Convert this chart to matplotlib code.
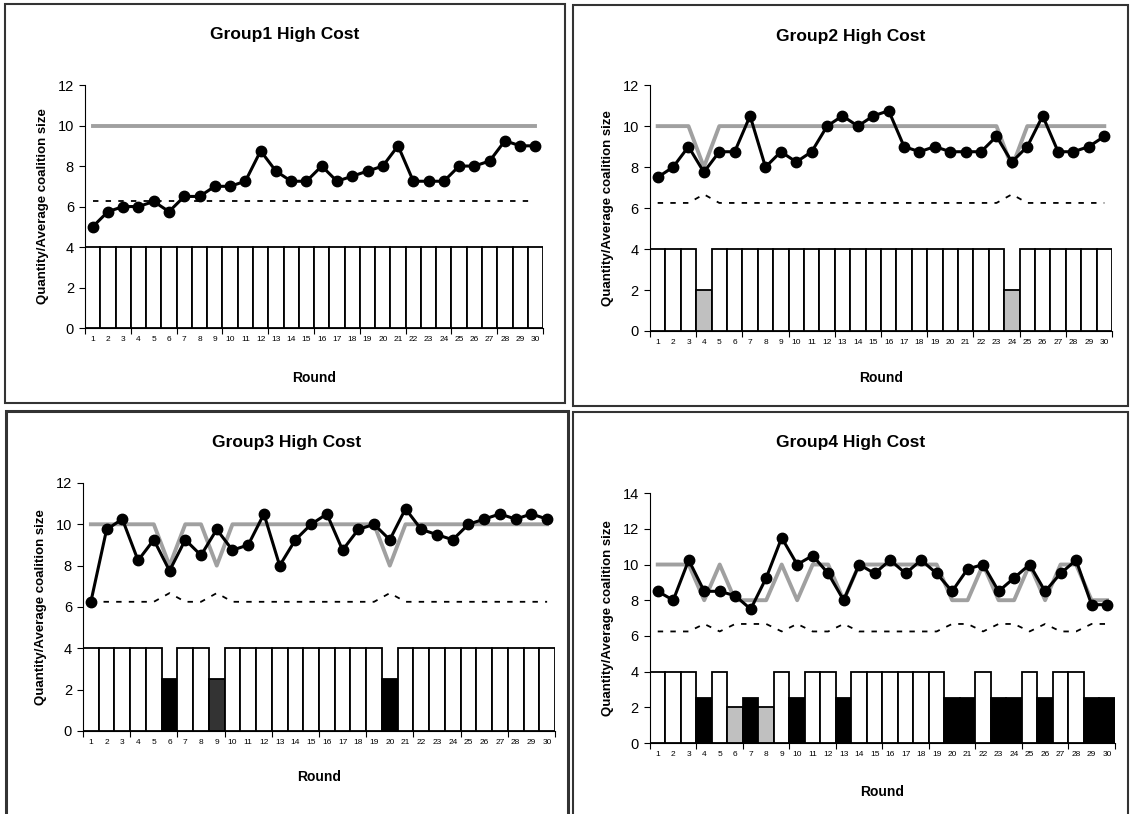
import matplotlib.pyplot as plt
from matplotlib.patches import Rectangle
from matplotlib.ticker import FixedLocator

plt.rcParams['font.family'] = ['Liberation Sans', 'DejaVu Sans']

ROUNDS = list(range(1, 31))

# Group 1
g1_avg = [5, 5.75, 6, 6, 6.25, 5.75, 6.5, 6.5, 7, 7, 7.25, 8.75, 7.75, 7.25, 7.25,
          8, 7.25, 7.5, 7.75, 8, 9, 7.25, 7.25, 7.25, 8, 8, 8.25, 9.25, 9, 9]
g1_qty = [10] * 30
g1_ref = [6.25] * 30
g1_bar = [4] * 30
g1_colors = ['white'] * 30

# Group 2
g2_avg = [7.5, 8, 9, 7.75, 8.75, 8.75, 10.5, 8, 8.75, 8.25, 8.75, 10, 10.5, 10, 10.5,
          10.75, 9, 8.75, 9, 8.75, 8.75, 8.75, 9.5, 8.25, 9, 10.5, 8.75, 8.75, 9, 9.5]
g2_qty = [10, 10, 10, 8] + [10] * 19 + [8] + [10] * 6
g2_ref = [6.25, 6.25, 6.25, 6.67] + [6.25] * 19 + [6.67] + [6.25] * 6
g2_bar = [4, 4, 4, 2] + [4] * 19 + [2] + [4] * 6
g2_colors = ['white'] * 3 + ['#c0c0c0'] + ['white'] * 19 + ['#c0c0c0'] + ['white'] * 6

# Group 3
g3_avg = [6.25, 9.75, 10.25, 8.25, 9.25, 7.75, 9.25, 8.5, 9.75, 8.75, 9, 10.5, 8, 9.25, 10,
          10.5, 8.75, 9.75, 10, 9.25, 10.75, 9.75, 9.5, 9.25, 10, 10.25, 10.5, 10.25, 10.5, 10.25]
g3_qty = [10] * 5 + [8, 10, 10, 8] + [10] * 10 + [8] + [10] * 10
g3_ref = [6.25] * 5 + [6.67, 6.25, 6.25, 6.67] + [6.25] * 10 + [6.67] + [6.25] * 10
g3_bar = [4] * 5 + [2.5, 4, 4, 2.5] + [4] * 10 + [2.5] + [4] * 10
g3_colors = ['white'] * 5 + ['black', 'white', 'white', '#333333'] + ['white'] * 10 + ['black'] + ['white'] * 10

# Group 4
g4_avg = [8.5, 8, 10.25, 8.5, 8.5, 8.25, 7.5, 9.25, 11.5, 10, 10.5, 9.5, 8, 10, 9.5,
          10.25, 9.5, 10.25, 9.5, 8.5, 9.75, 10, 8.5, 9.25, 10, 8.5, 9.5, 10.25, 7.75, 7.75]
g4_qty = [10, 10, 10, 8, 10, 8, 8, 8, 10, 8, 10, 10, 8, 10, 10,
          10, 10, 10, 10, 8, 8, 10, 8, 8, 10, 8, 10, 10, 8, 8]
g4_ref = [6.25, 6.25, 6.25, 6.67, 6.25, 6.67, 6.67, 6.67, 6.25, 6.67, 6.25, 6.25, 6.67, 6.25, 6.25,
          6.25, 6.25, 6.25, 6.25, 6.67, 6.67, 6.25, 6.67, 6.67, 6.25, 6.67, 6.25, 6.25, 6.67, 6.67]
g4_bar = [4, 4, 4, 2.5, 4, 2, 2.5, 2, 4, 2.5, 4, 4, 2.5, 4, 4,
          4, 4, 4, 4, 2.5, 2.5, 4, 2.5, 2.5, 4, 2.5, 4, 4, 2.5, 2.5]
g4_colors = ['white', 'white', 'white', 'black', 'white', '#c0c0c0', 'black', '#c0c0c0', 'white', 'black',
             'white', 'white', 'black', 'white', 'white', 'white', 'white', 'white', 'white', 'black',
             'black', 'white', 'black', 'black', 'white', 'black', 'white', 'white', 'black', 'black']

PANELS = [
    ("Group1 High Cost", g1_avg, g1_qty, g1_ref, g1_bar, g1_colors, 12, [0.0752, 0.597, 0.405, 0.2985], 378),
    ("Group2 High Cost", g2_avg, g2_qty, g2_ref, g2_bar, g2_colors, 12, [0.5747, 0.5934, 0.4085, 0.302], 378),
    ("Group3 High Cost", g3_avg, g3_qty, g3_ref, g3_bar, g3_colors, 12, [0.0734, 0.102, 0.4173, 0.3047], 777),
    ("Group4 High Cost", g4_avg, g4_qty, g4_ref, g4_bar, g4_colors, 14, [0.5747, 0.0872, 0.411, 0.307], 792),
]
BOXES = [(5, 4, 565, 403), (573, 5, 1128, 406), (6, 411, 568, 820), (573, 412, 1128, 820)]
TITLE_Y = [35, 36, 443, 443]


def main():
    W, H = 1131, 814
    fig = plt.figure(figsize=(W / 100, H / 100), dpi=100, facecolor='white')

    for i, (x0, y0, x1, y1) in enumerate(BOXES):
        fig.patches.append(Rectangle((x0 / W, 1 - y1 / H), (x1 - x0) / W, (y1 - y0) / H,
                                     transform=fig.transFigure, fill=False,
                                     edgecolor='#333333', linewidth=2.2 if i == 2 else 1.5))

    for i, (title, avg, qty, ref, bar, cols, ymax, rect, xlab_y) in enumerate(PANELS):
        ax = fig.add_axes(rect)
        ax.bar(ROUNDS, bar, width=1.0, color=cols, edgecolor='black', linewidth=1.3, zorder=1)
        ax.plot(ROUNDS, qty, color='#a0a0a0', lw=2.8, zorder=2)
        ax.plot(ROUNDS, ref, color='black', lw=1.3, dashes=(3, 4), zorder=2)
        ax.plot(ROUNDS, avg, color='black', lw=2.2, marker='o', ms=7.5, zorder=3)

        ax.set_xlim(0.5, 30.5)
        ax.set_ylim(0, ymax)
        ax.set_yticks(range(0, ymax + 1, 2))
        ax.set_xticks(ROUNDS)
        ax.set_xticklabels([str(r) for r in ROUNDS], fontsize=6)
        ax.xaxis.set_minor_locator(FixedLocator([0.5 + 3 * k for k in range(11)]))
        ax.tick_params(axis='x', which='major', length=0, pad=6)
        ax.tick_params(axis='x', which='minor', length=4, width=0.8)
        ax.tick_params(axis='y', length=4, width=0.8, labelsize=10.5, pad=4)
        for s in ('top', 'right'):
            ax.spines[s].set_visible(False)
        for s in ('left', 'bottom'):
            ax.spines[s].set_linewidth(0.8)

        ax.set_ylabel("Quantity/Average coalition size", fontsize=9.5, fontweight='bold', labelpad=6)
        cx = rect[0] + rect[2] / 2
        fig.text(cx, 1 - xlab_y / H, "Round", ha='center', va='center', fontsize=10, fontweight='bold')
        tx = (BOXES[i][0] + BOXES[i][2]) / 2 / W
        fig.text(tx, 1 - TITLE_Y[i] / H, title, ha='center', va='center', fontsize=12.5, fontweight='bold')

    fig.savefig("out.png", dpi=100, facecolor='white')
    plt.close(fig)


if __name__ == "__main__":
    main()
